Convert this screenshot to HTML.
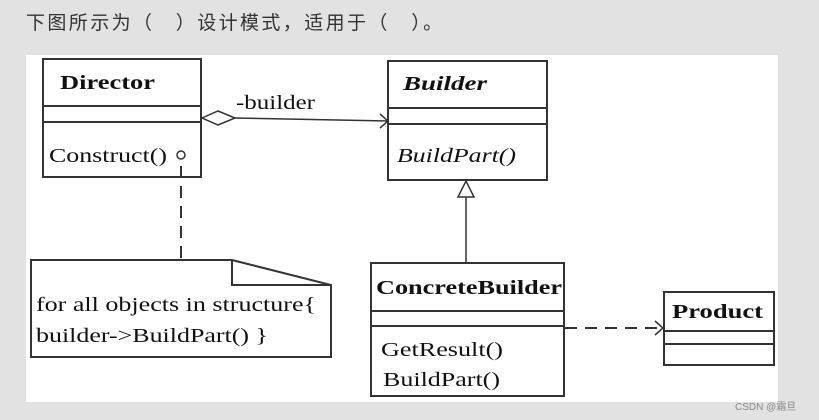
<!DOCTYPE html>
<html><head><meta charset="utf-8"><style>
body{margin:0;width:819px;height:420px;background:#e2e2e2;overflow:hidden;position:relative;font-family:"Liberation Sans","Noto Sans CJK SC",sans-serif}
.q{position:absolute;left:26px;top:8px;font-size:19px;letter-spacing:2.4px;color:#333;white-space:nowrap}
svg{position:absolute;left:0;top:0}
</style></head><body>
<div class="q">下图所示为（　）设计模式，适用于（　）。</div>
<svg width="819" height="420" font-family="Liberation Serif, serif" font-size="20">
<rect x="26" y="55" width="752" height="347" fill="#fff"/>
<g fill="none" stroke="#333" stroke-width="2">
<rect x="43" y="59" width="158" height="118"/><line x1="43" y1="106" x2="201" y2="106"/><line x1="43" y1="122" x2="201" y2="122"/>
<rect x="388" y="61" width="159" height="119"/><line x1="388" y1="108" x2="547" y2="108"/><line x1="388" y1="124" x2="547" y2="124"/>
<rect x="371" y="263" width="193" height="133"/><line x1="371" y1="311" x2="564" y2="311"/><line x1="371" y1="326" x2="564" y2="326"/>
<rect x="664" y="292" width="110" height="73"/><line x1="664" y1="331" x2="774" y2="331"/><line x1="664" y1="344" x2="774" y2="344"/>
<path d="M31 260 H232 L331 285 V357 H31 Z"/><path d="M232 260 V285 H331"/>
</g>
<g fill="none" stroke="#333" stroke-width="1.5">
<circle cx="181" cy="155" r="4"/>
<line x1="181" y1="166" x2="181" y2="260" stroke-dasharray="12,8" stroke-width="2"/>
<path d="M202 118 L218 111 L235 118 L218 125 Z"/>
<line x1="235" y1="118" x2="388" y2="121"/><path d="M380 114 L388 121 L380 128"/>
<line x1="466" y1="262" x2="466" y2="197"/><path d="M458 197 L466 181 L474 197 Z"/>
<line x1="565" y1="328" x2="662" y2="328" stroke-dasharray="12,8" stroke-width="2"/><path d="M655 321 L663 328 L655 335"/>
</g>
<g fill="#111" lengthAdjust="spacingAndGlyphs">
<text x="60" y="89" font-weight="bold" textLength="95" lengthAdjust="spacingAndGlyphs">Director</text>
<text x="49" y="162" textLength="118" lengthAdjust="spacingAndGlyphs">Construct()</text>
<text x="236" y="109" textLength="79" lengthAdjust="spacingAndGlyphs">-builder</text>
<text x="403" y="90" font-weight="bold" font-style="italic" textLength="84" lengthAdjust="spacingAndGlyphs">Builder</text>
<text x="397" y="162" font-style="italic" textLength="119" lengthAdjust="spacingAndGlyphs">BuildPart()</text>
<text x="376" y="294" font-weight="bold" textLength="186" lengthAdjust="spacingAndGlyphs">ConcreteBuilder</text>
<text x="381" y="356" textLength="122" lengthAdjust="spacingAndGlyphs">GetResult()</text>
<text x="383" y="386" textLength="117" lengthAdjust="spacingAndGlyphs">BuildPart()</text>
<text x="672" y="318" font-weight="bold" textLength="91" lengthAdjust="spacingAndGlyphs">Product</text>
<text x="36" y="311" textLength="280" lengthAdjust="spacingAndGlyphs">for all objects in structure{</text>
<text x="36" y="342" textLength="232" lengthAdjust="spacingAndGlyphs">builder-&gt;BuildPart() }</text>
</g>
<text x="735" y="410" font-family="Liberation Sans, Noto Sans CJK SC, sans-serif" font-size="10" fill="#888">CSDN @霜旦</text>
</svg>
</body></html>
